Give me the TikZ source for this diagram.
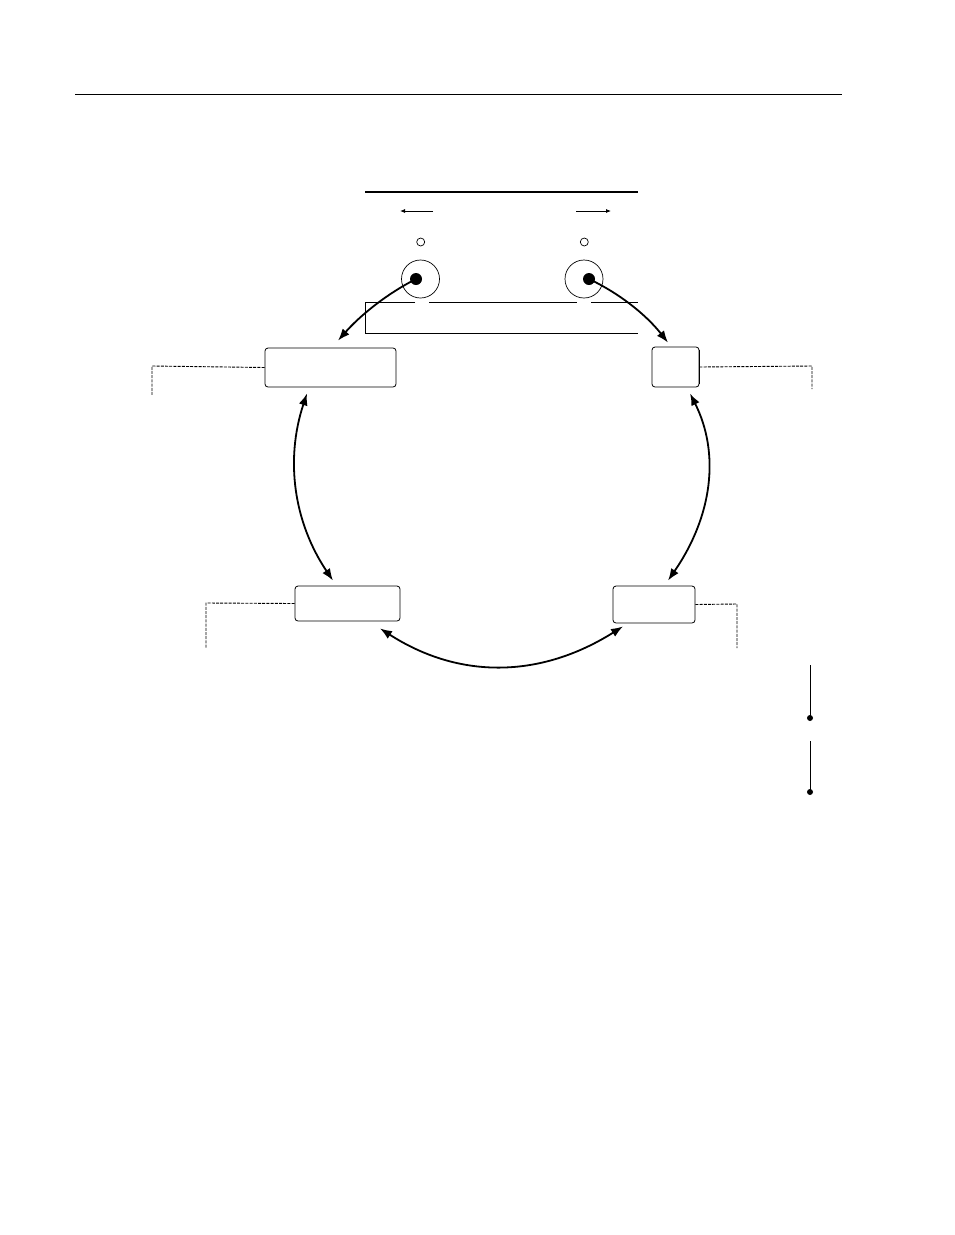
\documentclass[tikz,border=0pt]{standalone}
\usetikzlibrary{arrows.meta}
\begin{document}
\begin{tikzpicture}[x=1pt,y=-1pt,
  boxst/.style={draw,line width=0.8pt,rounded corners=3pt,inner sep=0pt},
  dashst/.style={line width=0.9pt,dash pattern=on 3pt off 1.2pt},
  bigarrow/.style={line width=1.8pt,{Latex[length=12pt,width=9pt]}-{Latex[length=12pt,width=9pt]}},
  onearrow/.style={line width=1.8pt,-{Latex[length=12pt,width=9pt]}},
  smallarrow/.style={line width=0.8pt,-{Latex[length=5pt,width=4pt]}},
  ring/.style={circle,draw,line width=0.7pt,inner sep=0pt,minimum size=38pt},
  tiny/.style={circle,draw,line width=0.7pt,inner sep=0pt,minimum size=8pt},
  dotst/.style={circle,fill,inner sep=0pt,minimum size=12pt},
  enddot/.style={circle,fill,inner sep=0pt,minimum size=6pt}]
\useasboundingbox[fill=white] (0,0) rectangle (954,1235);
% top rule
\draw[line width=0.8pt] (75,94) -- (842,94);
% header line
\draw[line width=1.5pt] (365,192) -- (638,192);
% small arrows
\coordinate (la1) at (433,211); \coordinate (la2) at (400,211);
\coordinate (ra1) at (576,211); \coordinate (ra2) at (611,211);
\draw[smallarrow] (la1) -- (la2);
\draw[smallarrow] (ra1) -- (ra2);
% small circles
\node[tiny] (sl) at (420.7,242) {};
\node[tiny] (sr) at (584.3,242) {};
% rings and dots
\node[ring] (cl) at (420.5,279) {};
\node[ring] (cr) at (584,279) {};
\node[dotst] (dl) at (416,279) {};
\node[dotst] (dr) at (589,279) {};
% open rectangle with gaps
\draw[line width=0.8pt] (415,302) -- (365.5,302) -- (365.5,333) -- (638,333);
\draw[line width=0.8pt] (429,302) -- (577,302);
\draw[line width=0.8pt] (591,302) -- (638,302);
% boxes
\node[boxst,minimum width=131pt,minimum height=39pt] (lt) at (330.5,367.5) {};
\node[boxst,minimum width=47pt,minimum height=40pt] (rt) at (675.5,367) {};
\draw[line width=1.6pt] ([yshift=-3pt]rt.north east) -- ([yshift=3pt]rt.south east);
\node[boxst,minimum width=105pt,minimum height=35pt] (lb) at (347.5,603.5) {};
\node[boxst,minimum width=82pt,minimum height=37pt] (rb) at (654,604.5) {};
% dashed leaders
\draw[dashst] (lt.west) -- (152,366) -- (152,395);
\draw[dashst] (rt.east) -- (812,366) -- (812,389);
\draw[dashst] (lb.west) -- (206,603) -- (206,648);
\draw[dashst] (rb.east) -- (737,604) -- (737,648);
% arrows from dots to top boxes
\draw[onearrow] (dl.center) .. controls (386,294.3) and (360,315.7) .. ([xshift=7.5pt,yshift=7pt]lt.north);
\draw[onearrow] (dr.center) .. controls (620,293.7) and (646.3,315) .. ([xshift=-7.5pt,yshift=4pt]rt.north);
% cycle arcs
\draw[bigarrow] ([xshift=-23.5pt,yshift=-6pt]lt.south) .. controls (285,459.7) and (293.7,522.3) .. ([xshift=-14.5pt,yshift=5pt]lb.north);
\draw[bigarrow] ([xshift=14.5pt,yshift=-6pt]rt.south) .. controls (720,453) and (712.7,515.7) .. ([xshift=14pt,yshift=5pt]rb.north);
\draw[bigarrow] ([xshift=32.5pt,yshift=-7pt]lb.south) .. controls (459,679.3) and (540,678.7) .. ([xshift=-31pt,yshift=-3pt]rb.south);
% right-side pins
\node[enddot] (p1) at (810,718) {};
\node[enddot] (p2) at (810,792) {};
\coordinate (q1) at (810,665);
\coordinate (q2) at (810,741);
\draw[line width=0.9pt] (q1) -- (p1.center);
\draw[line width=0.9pt] (q2) -- (p2.center);
\end{tikzpicture}
\end{document}
